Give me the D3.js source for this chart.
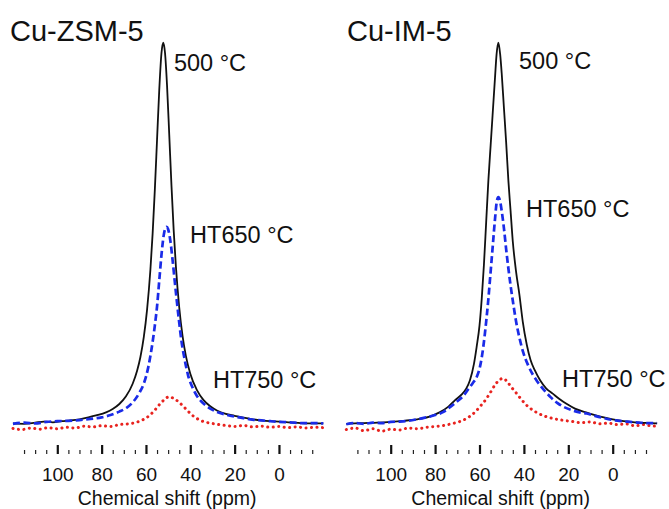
<!DOCTYPE html>
<html>
<head>
<meta charset="utf-8">
<script src="https://cdn.jsdelivr.net/npm/d3@7"></script>
<style>
  html, body { margin: 0; padding: 0; background: #ffffff; }
  svg { display: block; }
  text { font-family: "Liberation Sans", Arial, Helvetica, sans-serif; fill: #111; }
</style>
</head>
<body>
<svg id="chart" width="669" height="509"></svg>
<script>
// ---------- DATA ----------
const panelTitles = ["Cu-ZSM-5", "Cu-IM-5"];
const seriesNames = ["500 °C", "HT650 °C", "HT750 °C"];
const majorTicks = [100, 80, 60, 40, 20, 0];
const minorTicks = [115, 110, 105, 95, 90, 85, 75, 70, 65, 55, 50, 45, 35, 30, 25, 15, 10, 5, -5, -10, -15];
const xTitle = "Chemical shift (ppm)";

// Cu-ZSM-5 : [ppm, intensity]
const zsm500 = [
  [120,0.4],[115,0.3],[110,0.6],[106,0.9],[102,0.7],[98,1.0],[94,1.2],[90,1.5],[86,2.0],[82.5,2.5],
  [78,3.3],[75,4.2],[72,5.5],[69,7.5],[66,10.8],[64,14.2],[62.5,17.8],[61,22.9],[59.5,30.2],[58,40.6],
  [57,50],[56,61.5],[55,74.6],[54,87.7],[53,97.3],[52.2,100],[51.4,97.3],[50.5,88.9],[49.5,76],[48.5,62.7],
  [47.5,51],[46.5,41.5],[45,30.8],[43.5,23.3],[42,18.1],[40,13.4],[37,9.1],[34,6.5],[31,4.9],[28,3.8],
  [24,2.9],[20,2.4],[16,1.9],[12,1.5],[8,1.2],[4,1.0],[0,0.9],[-5,0.7],[-10,0.5],[-15,0.4],[-20,0.4]
];
const zsm650 = [
  [120,0.3],[115,0.6],[110,0.4],[105,0.8],[100,1.0],[95,1.1],[90,1.3],[85,1.6],[80,2.0],[76,2.6],
  [72,3.5],[69,4.4],[66,5.9],[63,8.4],[61,10.8],[59,15.0],[57.5,19.8],[56,26.0],[55,31.0],[54,37.8],
  [53,44.5],[52,49.6],[51.2,51.5],[50.7,51.8],[50,51.2],[49,48.2],[48,43.2],[47,37.5],[46,32.0],[45,26.8],
  [44,22.0],[42.5,17.0],[41,13.0],[39,9.8],[37,7.6],[34,5.6],[31,4.3],[28,3.4],[24,2.7],[20,2.2],
  [16,1.8],[12,1.4],[8,1.2],[4,1.0],[0,0.8],[-5,0.7],[-10,0.5],[-15,0.5],[-20,0.4]
];
const zsm750 = [
  [120,-0.9],[116,-1.2],[112,-0.8],[108,-1.1],[104,-0.7],[100,-1.0],[96,-0.6],[92,-0.8],[88,-0.3],[84,-0.5],
  [80,-0.2],[76,-0.4],[72,0.1],[68,0.3],[65,0.6],[62,1.2],[60,1.8],[58,2.7],[56,3.9],[54,5.3],
  [52,6.5],[50.5,7.2],[49.2,7.4],[48,7.1],[46.5,6.6],[45,5.9],[43,4.8],[41,3.6],[39,2.5],[37,1.7],
  [35,1.1],[32,0.6],[29,0.3],[26,0.0],[23,-0.2],[20,-0.4],[16,-0.1],[12,-0.5],[8,-0.3],[4,-0.6],
  [0,-0.4],[-4,-0.7],[-8,-0.5],[-12,-0.8],[-16,-0.6],[-20,-0.7]
];

// Cu-IM-5 : [ppm, intensity]
const im500 = [
  [120,0.3],[118,0.4],[112,0.5],[106,0.6],[100,0.8],[94,1.1],[88,1.5],[82.5,2.2],[78,3.3],[74,4.8],
  [71,6.5],[68,8.0],[66,9.5],[64.3,11.7],[62.5,16],[61.3,20.4],[60,26],[59,33],[58,42],[57,53],
  [56,64],[55,73],[54,82],[53,91],[52.3,97],[51.5,100],[50.7,97],[50,92],[49,83],[48,74],
  [47,64],[46,56],[45,48],[43.5,40],[42,34],[40.5,27],[38.7,21],[37,17],[35,14.2],[32.7,11.7],
  [30,9.6],[27,8.2],[24,6.8],[21,5.6],[17,4.3],[12,3.3],[8,2.6],[4,2.0],[0,1.5],[-4,1.1],
  [-8,0.8],[-12,0.6],[-16,0.5],[-20,0.4]
];
const im650 = [
  [120,0.2],[116,0.5],[112,0.3],[108,0.6],[104,0.5],[100,0.8],[96,0.9],[92,1.1],[88,1.5],[84,2.0],
  [80,2.6],[76,3.5],[73,4.8],[70,6.2],[67.3,7.6],[65,9.4],[63,11.0],[61.3,12.5],[59.5,16],[58.3,20.4],
  [57,27],[56,33],[55,40],[54,47],[53,54],[52.2,58.5],[51.5,59.6],[50.7,58.5],[50,56],[49,51.5],
  [48,46],[47,41],[46,36.5],[45,32.5],[43.5,27],[42,22.8],[40.3,19],[38,15.5],[36,13.2],[34,11.4],
  [31,9.2],[28,7.3],[25,5.8],[22.3,4.8],[18,3.8],[14,3.2],[11.7,3.0],[8,2.4],[4,1.8],[0,1.3],
  [-4,1.0],[-8,0.8],[-12,0.6],[-16,0.5],[-20,0.5]
];
const im750 = [
  [120,-1.2],[116,-0.8],[112,-1.5],[108,-1.0],[104,-1.6],[100,-1.1],[96,-1.3],[92,-0.8],[88,-1.0],[84,-0.6],
  [80,-0.4],[76,-0.1],[72,0.4],[68,1.1],[65,2.0],[62,3.4],[59.5,5.0],[57,6.8],[55,8.6],[53,10.5],
  [51,11.8],[49.3,12.2],[47.5,11.3],[45.5,9.8],[43.5,8.4],[41,6.6],[39,5.3],[37,4.3],[34,3.2],[30,2.2],
  [26,1.6],[22,1.2],[18,0.9],[14,0.6],[10,0.8],[6,0.3],[2,0.5],[-2,0.1],[-6,0.3],[-10,-0.2],
  [-14,0.1],[-18,-0.3],[-20,-0.2]
];

// annotation anchors in data units [ppm, intensity]
const zsmLabelAt = [[47.4,92.7],[40.1,47.5],[29.8,9.7]];
const imLabelAt  = [[42.2,93.0],[39.05,54.3],[22.8,9.9]];

// ---------- DRAWING ----------
const svg = d3.select("#chart");
const y = d3.scaleLinear().domain([0, 100]).range([425, 42.7]);

const styles = [
  { stroke: "#111111", width: 1.8, dash: null, cap: "butt" },
  { stroke: "#1a2be8", width: 2.7, dash: "7,3.5", cap: "butt" },
  { stroke: "#e8231f", width: 3.0, dash: "0.1,5.4", cap: "round" }
];

const panels = [
  { title: panelTitles[0], series: [zsm500, zsm650, zsm750], labels: zsmLabelAt,
    x: d3.scaleLinear().domain([120, -20]).range([12.96, 323.3]), titleX: 10 },
  { title: panelTitles[1], series: [im500, im650, im750], labels: imLabelAt,
    x: d3.scaleLinear().domain([120, -20]).range([346.3, 657.1]), titleX: 347 }
];

panels.forEach(p => {
  const g = svg.append("g");
  const line = d3.line()
    .x(d => p.x(d[0]))
    .y(d => y(d[1]))
    .curve(d3.curveMonotoneX);

  [2, 0, 1].forEach(i => {
    const s = styles[i];
    g.append("path")
      .datum(p.series[i])
      .attr("d", line)
      .attr("fill", "none")
      .attr("stroke", s.stroke)
      .attr("stroke-width", s.width)
      .attr("stroke-linecap", s.cap)
      .attr("stroke-linejoin", "round")
      .attr("stroke-dasharray", s.dash);
  });

  // axis: major and minor ticks pointing upward from baseline
  const axisY = 454;
  const major = d3.axisBottom(p.x).tickValues(majorTicks).tickSize(-9).tickPadding(14)
    .tickFormat(d3.format("d"));
  const minor = d3.axisBottom(p.x).tickValues(minorTicks).tickSize(-4).tickFormat("");
  const gMinor = g.append("g").attr("transform", `translate(0,${axisY})`).call(minor);
  const gMajor = g.append("g").attr("transform", `translate(0,${axisY})`).call(major);
  [gMinor, gMajor].forEach(a => a.select(".domain").remove());
  gMinor.selectAll(".tick line").attr("stroke", "#222").attr("stroke-width", 1.2);
  gMajor.selectAll(".tick line").attr("stroke", "#111").attr("stroke-width", 2.2);
  gMajor.selectAll(".tick text")
    .attr("font-size", 19)
    .attr("font-family", "'Liberation Sans', Arial, sans-serif")
    .attr("fill", "#111");

  // axis title
  const [r0, r1] = p.x.range();
  g.append("text")
    .attr("x", (r0 + r1) / 2 - 1)
    .attr("y", 505)
    .attr("text-anchor", "middle")
    .attr("font-size", 19.5)
    .text(xTitle);

  // panel title
  g.append("text")
    .attr("x", p.titleX)
    .attr("y", 41)
    .attr("font-size", 29)
    .text(p.title);

  // series labels
  p.labels.forEach((pos, i) => {
    g.append("text")
      .attr("x", p.x(pos[0]))
      .attr("y", y(pos[1]))
      .attr("font-size", 23.5)
      .text(seriesNames[i]);
  });
});
</script>
</body>
</html>
